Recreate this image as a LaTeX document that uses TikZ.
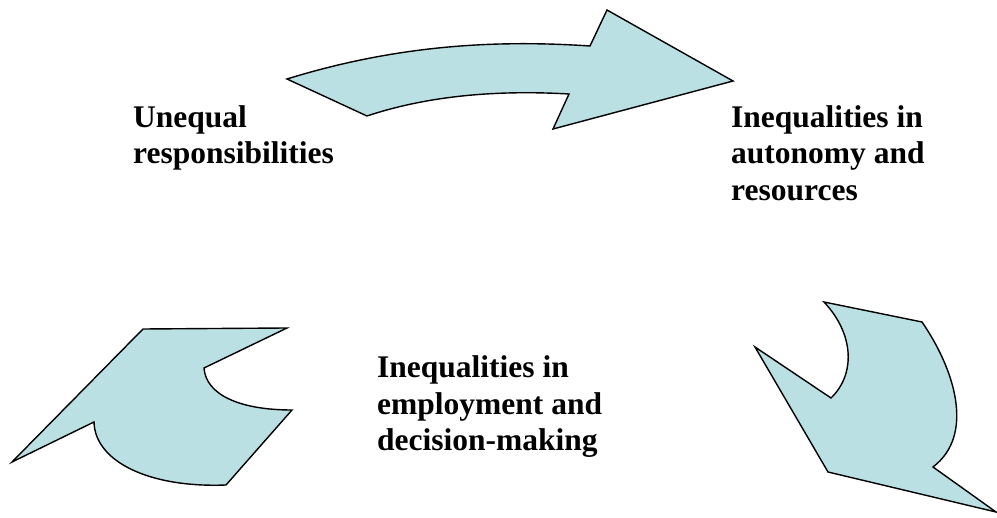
\documentclass[tikz,border=0pt]{standalone}
\usepackage{fontspec}
\setmainfont{Liberation Serif}
\definecolor{arrowfill}{RGB}{187,224,227}
\begin{document}
\begin{tikzpicture}[x=1pt,y=-1pt,
  bigarrow/.style={draw=black,fill=arrowfill,line width=1.4pt,line join=miter},
  label/.style={anchor=base west,inner sep=0pt,align=left,font=\bfseries\fontsize{31.5}{36.6}\selectfont}]
\useasboundingbox (0,0) rectangle (997,518);
% top arrow
\path[bigarrow] (287,79) .. controls (400,44) and (500,40) .. (590,46)
  -- (607,10) -- (733,81) -- (553,129) -- (569,94)
  .. controls (500,90) and (430,95) .. (367,116) -- cycle;
% bottom-left arrow
\path[bigarrow] (143,329) -- (287,328) -- (204,368)
  .. controls (206,395) and (240,410) .. (292,410)
  -- (226,485)
  .. controls (150,488) and (95,462) .. (94,422)
  -- (12,462) -- cycle;
% bottom-right arrow
\path[bigarrow] (824,302) -- (922,322)
  .. controls (955,370) and (975,435) .. (933,467)
  -- (996,512) -- (828,472) -- (755,347) -- (831,398)
  .. controls (855,375) and (855,335) .. (824,302) -- cycle;
\node[label] (unequal) at (133,164) {Unequal\\responsibilities};
\node[label] (autonomy) at (731,200.5) {Inequalities in\\autonomy and\\resources};
\node[label] (employment) at (377,451) {Inequalities in\\employment and\\decision-making};
\end{tikzpicture}
\end{document}
